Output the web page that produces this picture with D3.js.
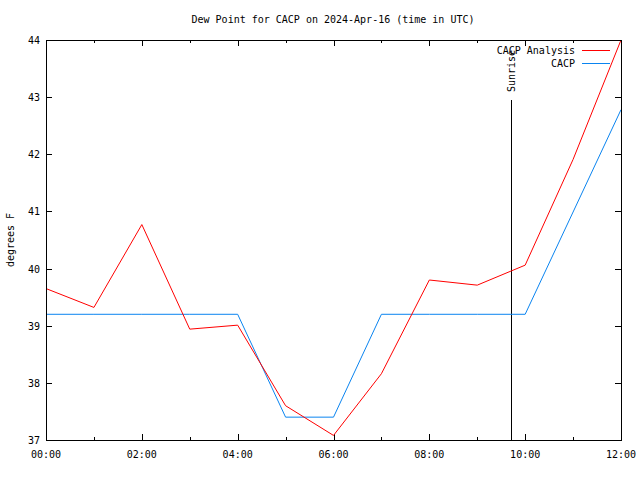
<!DOCTYPE html>
<html><head><meta charset="utf-8">
<script src="https://cdn.jsdelivr.net/npm/d3@7"></script>
<style>body{margin:0;background:#fff}svg{display:block}text{font-family:"DejaVu Sans Mono",monospace;font-size:10px;fill:#000}</style>
</head><body>
<script>
const hours = [0,1,2,3,4,5,6,7,8,9,10,11,12];
const analysis = [39.65,39.32,40.77,38.94,39.01,37.6,37.08,38.16,39.8,39.71,40.06,41.91,44.0];
const station = [39.2,39.2,39.2,39.2,39.2,37.4,37.4,39.2,39.2,39.2,39.2,40.99,42.78];
const xTickLabels = ["00:00","02:00","04:00","06:00","08:00","10:00","12:00"];
const yTicks = [37,38,39,40,41,42,43,44];
const sunriseHour = 9.70;
const seriesNames = ["CACP Analysis","CACP"];

const W=640,H=480, L=46,R=621,T=40,B=440;
const svg=d3.select("body").append("svg").attr("width",W).attr("height",H);
const x=d3.scaleLinear().domain([0,12]).range([L,R]);
const y=d3.scaleLinear().domain([37,44]).range([B,T]);

// ticks
const g=svg.append("g").attr("stroke","#000").attr("stroke-width",1).attr("shape-rendering","crispEdges");
hours.forEach(h=>{
  const len = h%2===0?6:3;
  const px=Math.round(x(h))+0.5;
  g.append("line").attr("x1",px).attr("x2",px).attr("y1",B).attr("y2",B-len);
  g.append("line").attr("x1",px).attr("x2",px).attr("y1",T).attr("y2",T+len);
});
yTicks.forEach(v=>{
  const py=Math.round(y(v))+0.5;
  g.append("line").attr("x1",L).attr("x2",L+6).attr("y1",py).attr("y2",py);
  g.append("line").attr("x1",R).attr("x2",R-6).attr("y1",py).attr("y2",py);
  svg.append("text").attr("x",L-6).attr("y",y(v)+4).attr("text-anchor","end").text(v);
});
xTickLabels.forEach((t,i)=>{
  svg.append("text").attr("x",x(i*2)).attr("y",B+18).attr("text-anchor","middle").text(t);
});

// sunrise
g.append("line").attr("x1",Math.round(x(sunriseHour))+0.5).attr("x2",Math.round(x(sunriseHour))+0.5).attr("y1",100).attr("y2",B);
svg.append("text").attr("transform",`translate(${x(sunriseHour)+4},92) rotate(-90)`).attr("text-anchor","start").text("Sunrise");

// lines
const line=d3.line().x((d,i)=>x(hours[i])).y(d=>y(d));
svg.append("path").datum(station).attr("d",line).attr("fill","none").attr("stroke","#0a84f0").attr("stroke-width",1);
svg.append("path").datum(analysis).attr("d",line).attr("fill","none").attr("stroke","#ff0000").attr("stroke-width",1);

// border
svg.append("rect").attr("x",L+0.5).attr("y",T+0.5).attr("width",R-L).attr("height",B-T).attr("fill","none").attr("stroke","#000").attr("shape-rendering","crispEdges");

// legend
const colors=["#ff0000","#0a84f0"];
seriesNames.forEach((n,i)=>{
  const ly=50+i*13;
  svg.append("text").attr("x",575).attr("y",ly+4).attr("text-anchor","end").text(n);
  svg.append("line").attr("x1",582).attr("x2",610).attr("y1",ly+0.5).attr("y2",ly+0.5).attr("stroke",colors[i]).attr("shape-rendering","crispEdges");
});

// title & y label
svg.append("text").attr("x",333).attr("y",23).attr("text-anchor","middle").text("Dew Point for CACP on 2024-Apr-16 (time in UTC)");
svg.append("text").attr("transform",`translate(14,240) rotate(-90)`).attr("text-anchor","middle").text("degrees F");
</script>
</body></html>
